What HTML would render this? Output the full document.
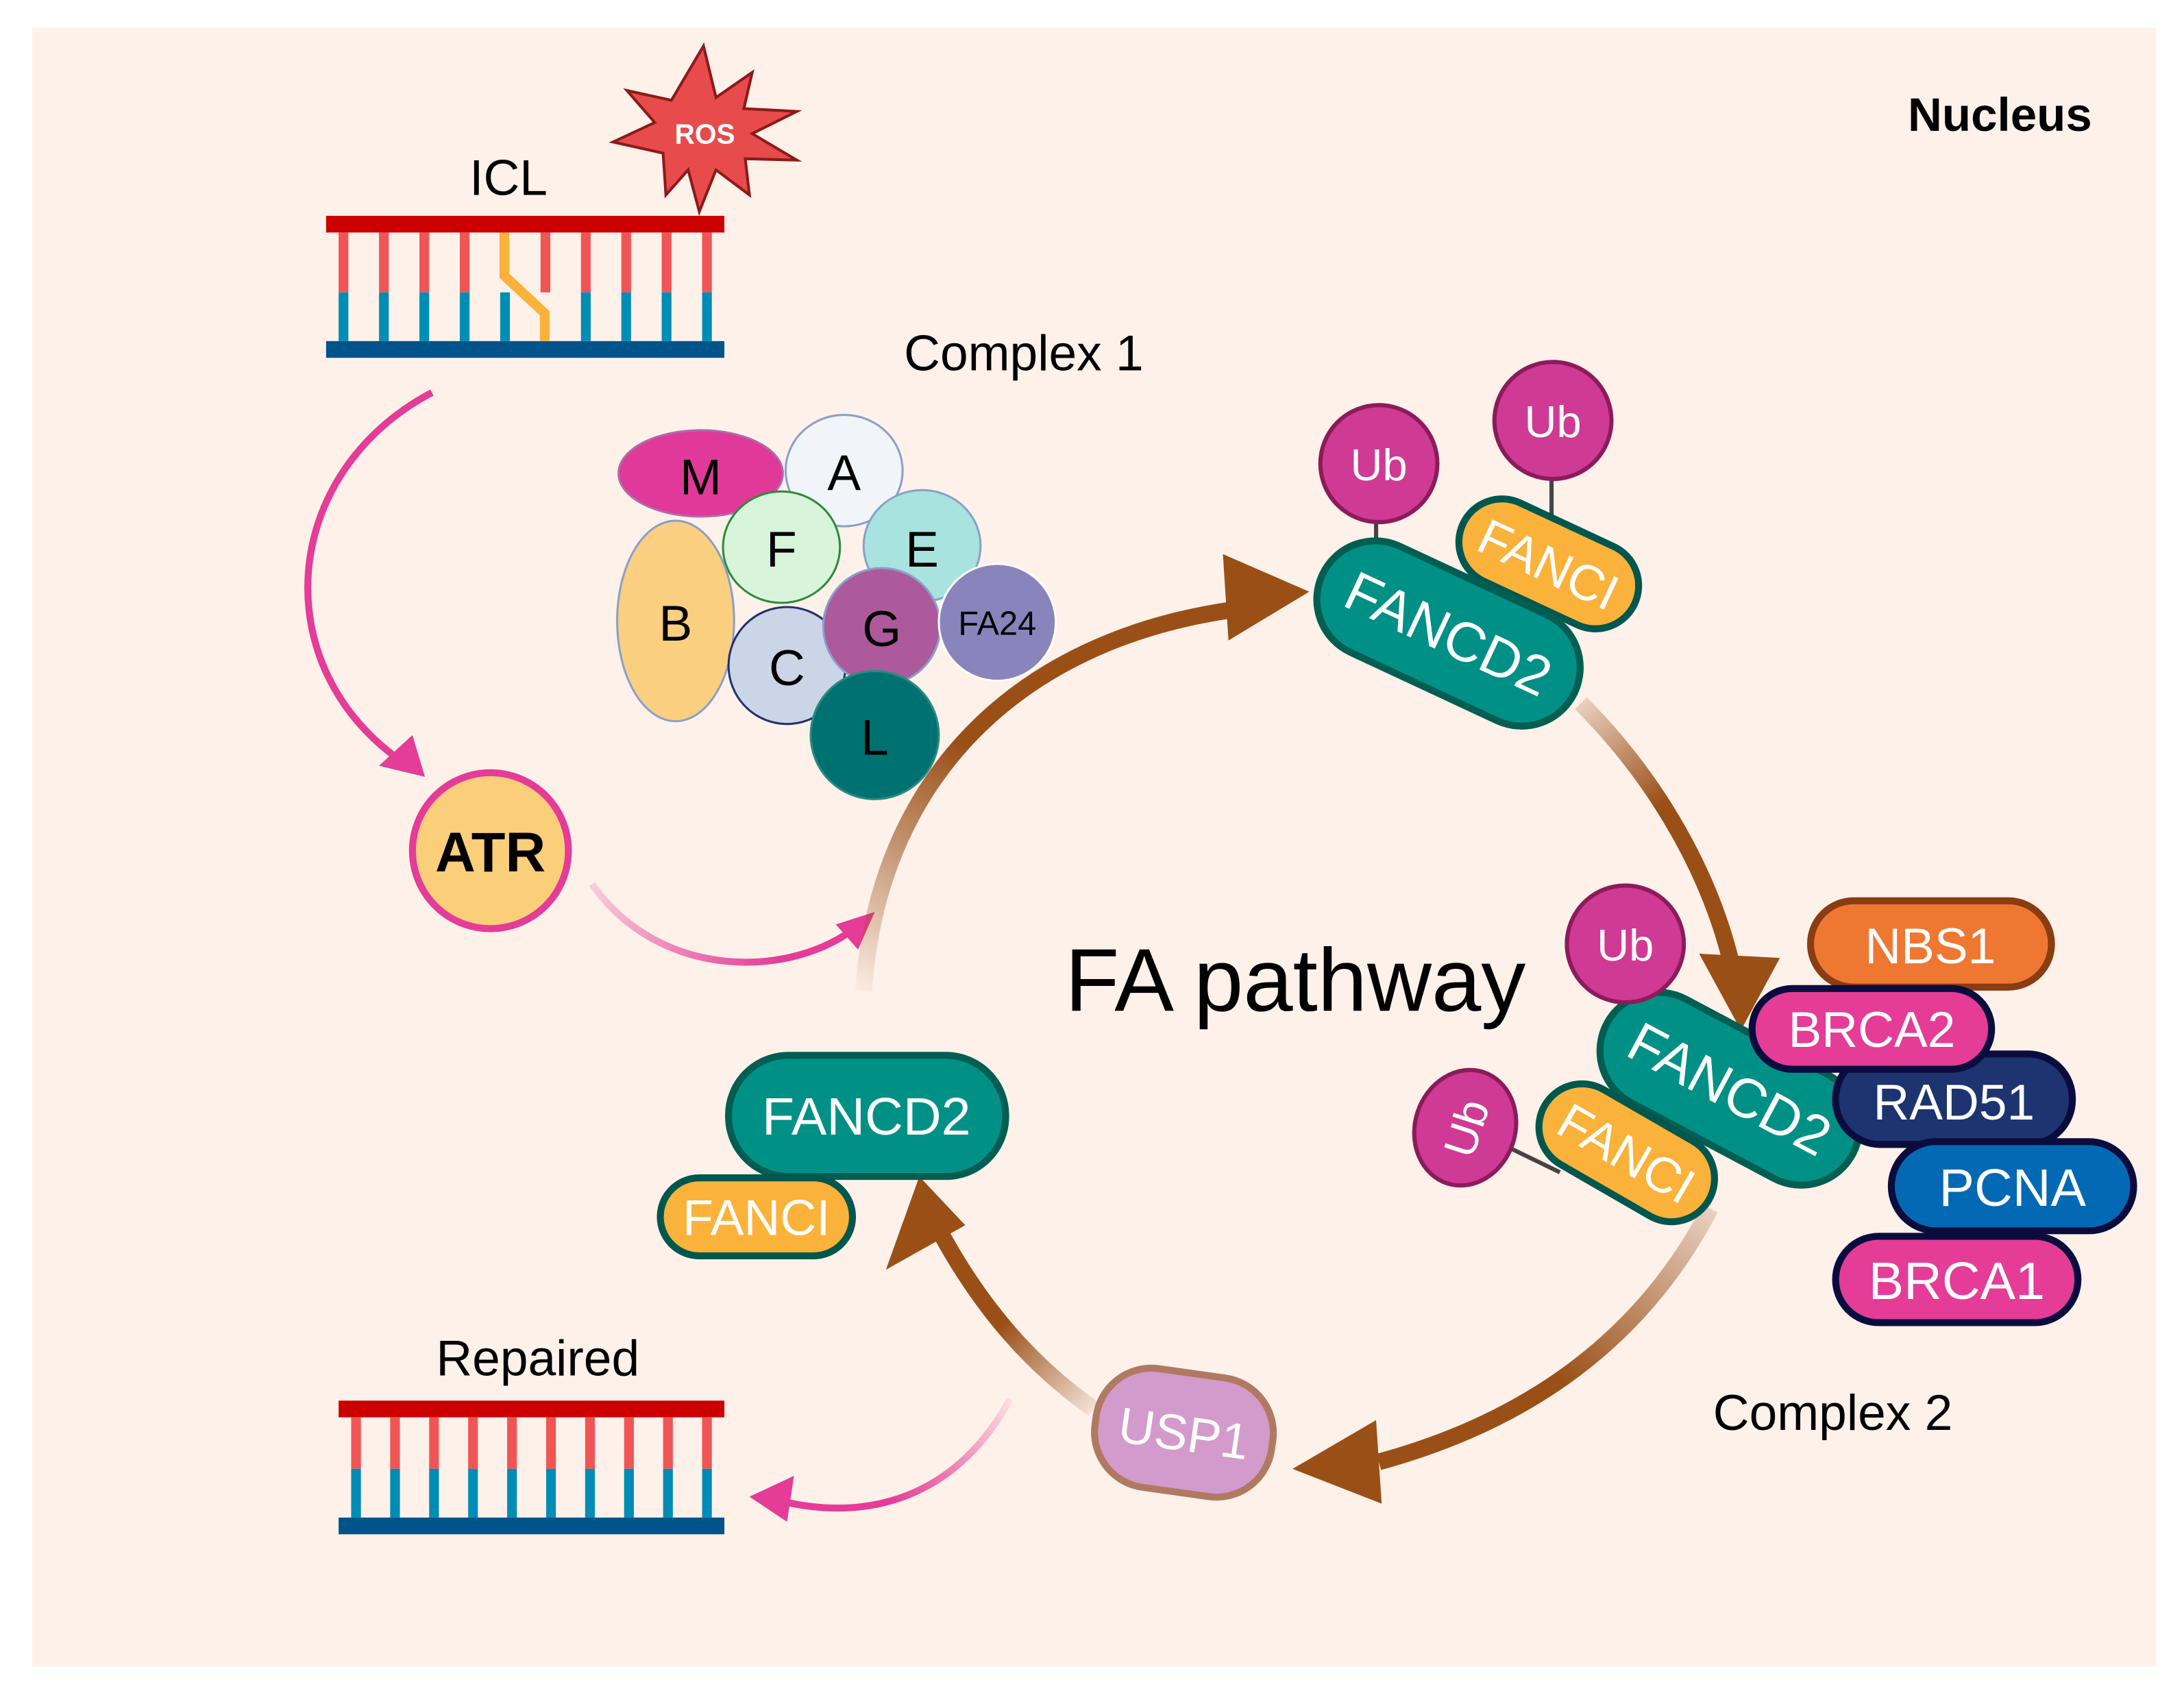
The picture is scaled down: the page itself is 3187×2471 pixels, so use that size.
<!DOCTYPE html>
<html><head><meta charset="utf-8"><style>html,body{margin:0;padding:0;background:#fff}svg{display:block}</style></head><body>
<svg width="3187" height="2471" viewBox="0 0 1568 1216" xmlns="http://www.w3.org/2000/svg" font-family="Liberation Sans, Arial, sans-serif">
<defs>
<linearGradient id="g1" gradientUnits="userSpaceOnUse" x1="620" y1="720" x2="700" y2="540"><stop offset="0" stop-color="#9a4f17" stop-opacity="0"/><stop offset="1" stop-color="#9a4f17"/></linearGradient>
<linearGradient id="g2" gradientUnits="userSpaceOnUse" x1="1135" y1="505" x2="1190" y2="580"><stop offset="0" stop-color="#9a4f17" stop-opacity="0.2"/><stop offset="1" stop-color="#9a4f17"/></linearGradient>
<linearGradient id="g3" gradientUnits="userSpaceOnUse" x1="1228" y1="868" x2="1130" y2="1000"><stop offset="0" stop-color="#9a4f17" stop-opacity="0.2"/><stop offset="1" stop-color="#9a4f17"/></linearGradient>
<linearGradient id="g4" gradientUnits="userSpaceOnUse" x1="785" y1="1012" x2="720" y2="950"><stop offset="0" stop-color="#9a4f17" stop-opacity="0.1"/><stop offset="1" stop-color="#9a4f17"/></linearGradient>
<linearGradient id="p1" gradientUnits="userSpaceOnUse" x1="425" y1="635" x2="560" y2="690"><stop offset="0" stop-color="#e43c97" stop-opacity="0.2"/><stop offset="1" stop-color="#e43c97"/></linearGradient>
<linearGradient id="p2" gradientUnits="userSpaceOnUse" x1="725" y1="1005" x2="640" y2="1080"><stop offset="0" stop-color="#e43c97" stop-opacity="0.1"/><stop offset="1" stop-color="#e43c97"/></linearGradient>
</defs>
<rect x="0" y="0" width="1568" height="1216" fill="#fff"/>
<rect x="23" y="20" width="1525" height="1177" fill="#fdf1ea"/>

<text x="1436" y="94" font-size="34" font-weight="bold" text-anchor="middle">Nucleus</text>

<!-- ROS -->
<polygon points="505,33 514,70 540,52 534,78 572,80 540,96 572,115 535,114 538,140 514,122 502,152 494,122 478,140 476,110 440,102 470,88 450,65 482,72" fill="#e84b4b" stroke="#8c1a1a" stroke-width="2"/>
<text x="506" y="103" font-size="20" font-weight="bold" fill="#fff" text-anchor="middle">ROS</text>
<text x="365" y="140" font-size="36" text-anchor="middle">ICL</text>

<!-- ICL DNA -->
<g>
<rect x="234" y="155" width="286" height="12" fill="#cc0000"/>
<rect x="234" y="245" width="286" height="12" fill="#00548a"/>
<g fill="#f05555">
<rect x="243" y="167" width="7" height="43"/><rect x="272" y="167" width="7" height="43"/><rect x="301" y="167" width="7" height="43"/><rect x="330" y="167" width="7" height="43"/><rect x="417" y="167" width="7" height="43"/><rect x="446" y="167" width="7" height="43"/><rect x="475" y="167" width="7" height="43"/><rect x="504" y="167" width="7" height="43"/><rect x="388" y="167" width="7" height="43"/>
</g>
<g fill="#008db5">
<rect x="243" y="210" width="7" height="35"/><rect x="272" y="210" width="7" height="35"/><rect x="301" y="210" width="7" height="35"/><rect x="330" y="210" width="7" height="35"/><rect x="359" y="210" width="7" height="35"/><rect x="417" y="210" width="7" height="35"/><rect x="446" y="210" width="7" height="35"/><rect x="475" y="210" width="7" height="35"/><rect x="504" y="210" width="7" height="35"/>
</g>
<polyline points="362,167 362,198 391,225 391,245" fill="none" stroke="#fbb23a" stroke-width="7"/>
</g>

<text x="735" y="266" font-size="36" text-anchor="middle">Complex 1</text>

<!-- Complex 1 proteins -->
<g stroke-width="1.5" font-size="36" text-anchor="middle">
<ellipse cx="606" cy="338" rx="42" ry="40" fill="#f1f5fa" stroke="#8aa0c8"/>
<ellipse cx="503" cy="340" rx="59" ry="31" fill="#e0399a" stroke="#b06aa8"/>
<ellipse cx="662" cy="392" rx="42" ry="40" fill="#a8e3df" stroke="#8aa0c8"/>
<ellipse cx="561" cy="393" rx="42" ry="40" fill="#d8f5db" stroke="#2e8b3a"/>
<ellipse cx="485" cy="446" rx="42" ry="72" fill="#fbcf80" stroke="#8aa0c8"/>
<ellipse cx="565" cy="478" rx="42" ry="42" fill="#cbd5e8" stroke="#23336a"/>
<ellipse cx="633" cy="450" rx="42" ry="42" fill="#ac5a9b" stroke="#8aa0c8"/>
<ellipse cx="716" cy="447" rx="42" ry="42" fill="#8a84bd" stroke="#fff"/>
<ellipse cx="628" cy="528" rx="46" ry="46" fill="#007171" stroke="#2b8a80"/>
<g stroke="none" fill="#000">
<text x="503" y="355">M</text><text x="606" y="352">A</text><text x="561" y="407">F</text><text x="662" y="407">E</text><text x="485" y="460">B</text><text x="565" y="492">C</text><text x="633" y="464">G</text><text x="716" y="456" font-size="24">FA24</text><text x="628" y="542">L</text>
</g>
</g>

<!-- pink arrow ICL -> ATR -->
<path d="M310,282 C200,340 190,480 290,548" fill="none" stroke="#e43c97" stroke-width="5"/>
<polygon points="305,558 272,550 296,528" fill="#e43c97"/>
<circle cx="352" cy="611" r="56" fill="#fbce7a" stroke="#e43c97" stroke-width="5"/>
<text x="352" y="626" font-size="40" font-weight="bold" text-anchor="middle">ATR</text>
<path d="M425,635 C470,700 560,705 612,668" fill="none" stroke="url(#p1)" stroke-width="5"/>
<polygon points="628,655 600,664 616,682" fill="#e43c97"/>

<!-- cycle arrows -->
<path d="M620,712 C630,560 730,460 885,438" fill="none" stroke="url(#g1)" stroke-width="12"/>
<polygon points="878,398 940,425 882,460" fill="#9a4f17"/>
<path d="M1135,505 C1190,560 1230,630 1245,700" fill="none" stroke="url(#g2)" stroke-width="12"/>
<polygon points="1220,685 1250,740 1278,688" fill="#9a4f17"/>
<path d="M1228,868 C1180,960 1100,1020 990,1050" fill="none" stroke="url(#g3)" stroke-width="12"/>
<polygon points="988,1020 928,1055 992,1080" fill="#9a4f17"/>
<path d="M785,1012 C740,980 705,940 675,885" fill="none" stroke="url(#g4)" stroke-width="12"/>
<polygon points="636,912 660,845 693,880" fill="#9a4f17"/>

<text x="930" y="726" font-size="64" text-anchor="middle">FA pathway</text>

<!-- top complex -->
<line x1="988" y1="365" x2="988" y2="408" stroke="#444" stroke-width="3"/>
<line x1="1114" y1="335" x2="1114" y2="378" stroke="#444" stroke-width="3"/>
<g transform="translate(1112,405) rotate(25)">
<rect x="-68" y="-31" width="136" height="62" rx="31" fill="#fbb23a" stroke="#00574d" stroke-width="5"/>
<text x="0" y="13" font-size="36" fill="#fff" text-anchor="middle">FANCI</text></g>
<g transform="translate(1040,455) rotate(25)">
<rect x="-100" y="-42" width="200" height="84" rx="42" fill="#009086" stroke="#005e52" stroke-width="5"/>
<text x="0" y="14" font-size="40" fill="#fff" text-anchor="middle">FANCD2</text></g>
<circle cx="990" cy="333" r="42" fill="#cf3a95" stroke="#8c1b5a" stroke-width="3"/>
<text x="990" y="345" font-size="32" fill="#fff" text-anchor="middle">Ub</text>
<circle cx="1115" cy="302" r="42" fill="#cf3a95" stroke="#8c1b5a" stroke-width="3"/>
<text x="1115" y="314" font-size="32" fill="#fff" text-anchor="middle">Ub</text>

<!-- right complex -->
<rect x="1300" y="647" width="173" height="62" rx="31" fill="#ee7832" stroke="#8a3c12" stroke-width="5"/>
<text x="1386" y="692" font-size="36" fill="#fff" text-anchor="middle">NBS1</text>
<line x1="1165" y1="712" x2="1165" y2="752" stroke="#444" stroke-width="3"/>
<g transform="translate(1242,782) rotate(28)">
<rect x="-100" y="-42" width="200" height="84" rx="42" fill="#009086" stroke="#005e52" stroke-width="5"/>
<text x="0" y="14" font-size="40" fill="#fff" text-anchor="middle">FANCD2</text></g>
<rect x="1318" y="757" width="170" height="65" rx="32" fill="#1e3470" stroke="#0b0c3e" stroke-width="5"/>
<text x="1403" y="804" font-size="36" fill="#fff" text-anchor="middle">RAD51</text>
<rect x="1258" y="710" width="172" height="58" rx="29" fill="#e43c97" stroke="#0b0c3e" stroke-width="5"/>
<text x="1344" y="752" font-size="36" fill="#fff" text-anchor="middle">BRCA2</text>
<rect x="1358" y="820" width="174" height="64" rx="32" fill="#0369b5" stroke="#0b0c3e" stroke-width="5"/>
<text x="1445" y="866" font-size="38" fill="#fff" text-anchor="middle">PCNA</text>
<rect x="1318" y="888" width="174" height="62" rx="31" fill="#e43c97" stroke="#0b0c3e" stroke-width="5"/>
<text x="1405" y="933" font-size="38" fill="#fff" text-anchor="middle">BRCA1</text>
<line x1="1085" y1="825" x2="1120" y2="842" stroke="#444" stroke-width="3"/>
<g transform="translate(1168,828) rotate(30)">
<rect x="-68" y="-31" width="136" height="62" rx="31" fill="#fbb23a" stroke="#00574d" stroke-width="5"/>
<text x="0" y="13" font-size="36" fill="#fff" text-anchor="middle">FANCI</text></g>
<circle cx="1167" cy="678" r="42" fill="#cf3a95" stroke="#8c1b5a" stroke-width="3"/>
<text x="1167" y="690" font-size="32" fill="#fff" text-anchor="middle">Ub</text>
<g transform="translate(1052,810) rotate(-72)">
<ellipse cx="0" cy="0" rx="42" ry="36" fill="#cf3a95" stroke="#8c1b5a" stroke-width="3"/>
<text x="0" y="12" font-size="32" fill="#fff" text-anchor="middle">Ub</text></g>

<text x="1316" y="1027" font-size="36" text-anchor="middle">Complex 2</text>

<!-- bottom left complex -->
<rect x="523" y="758" width="199" height="87" rx="43" fill="#009086" stroke="#005e52" stroke-width="5"/>
<text x="622" y="815" font-size="38" fill="#fff" text-anchor="middle">FANCD2</text>
<rect x="474" y="846" width="138" height="56" rx="28" fill="#fbb23a" stroke="#00574d" stroke-width="5"/>
<text x="543" y="887" font-size="36" fill="#fff" text-anchor="middle">FANCI</text>

<!-- USP1 -->
<g transform="translate(850,1029) rotate(8)">
<rect x="-64" y="-43" width="128" height="86" rx="40" fill="#d39bcb" stroke="#b07a62" stroke-width="5"/>
<text x="0" y="13" font-size="36" fill="#fff" text-anchor="middle">USP1</text></g>

<!-- repaired -->
<text x="386" y="988" font-size="36" text-anchor="middle">Repaired</text>
<rect x="243" y="1006" width="277" height="12" fill="#cc0000"/>
<rect x="243" y="1090" width="277" height="12" fill="#00548a"/>
<g fill="#f05555">
<rect x="252" y="1018" width="7" height="37"/><rect x="280" y="1018" width="7" height="37"/><rect x="308" y="1018" width="7" height="37"/><rect x="336" y="1018" width="7" height="37"/><rect x="364" y="1018" width="7" height="37"/><rect x="392" y="1018" width="7" height="37"/><rect x="420" y="1018" width="7" height="37"/><rect x="448" y="1018" width="7" height="37"/><rect x="476" y="1018" width="7" height="37"/><rect x="504" y="1018" width="7" height="37"/>
</g>
<g fill="#008db5">
<rect x="252" y="1055" width="7" height="35"/><rect x="280" y="1055" width="7" height="35"/><rect x="308" y="1055" width="7" height="35"/><rect x="336" y="1055" width="7" height="35"/><rect x="364" y="1055" width="7" height="35"/><rect x="392" y="1055" width="7" height="35"/><rect x="420" y="1055" width="7" height="35"/><rect x="448" y="1055" width="7" height="35"/><rect x="476" y="1055" width="7" height="35"/><rect x="504" y="1055" width="7" height="35"/>
</g>
<path d="M725,1005 C690,1070 630,1095 560,1078" fill="none" stroke="url(#p2)" stroke-width="5"/>
<polygon points="538,1075 570,1060 565,1093" fill="#e43c97"/>
</svg>
</body></html>
